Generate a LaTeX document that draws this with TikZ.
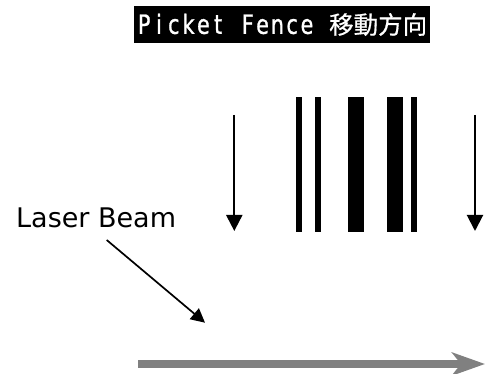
\documentclass[tikz,border=0pt]{standalone}
\usepackage{fontspec}
\usetikzlibrary{arrows.meta}
\newfontfamily\headfont[FakeStretch=0.78,FakeBold=1]{DejaVu Sans}
\newfontfamily\cjkfont[FakeBold=0.6]{Noto Sans CJK TC}
\newfontfamily\labelfont{DejaVu Sans}
% one fixed-pitch cell of the heading
\newcommand\cell[1]{\makebox[14.8pt][c]{#1}}
\begin{document}
\begin{tikzpicture}[x=1pt,y=-1pt,
  titlebox/.style={fill=black, text=white, inner sep=0pt,
    minimum width=296pt, minimum height=37pt},
  droparrow/.style={line width=2pt, -{Triangle[width=16pt,length=16pt]}},
  beamarrow/.style={line width=1.7pt, -{Triangle[width=14pt,length=14pt]}},
  movearrow/.style={line width=8pt, draw={rgb,255:red,128;green,128;blue,128},
    -{Stealth[length=33pt,width=23pt,inset=9pt]}},
  fencebar/.style={fill=black},
  labeltext/.style={inner sep=0pt, anchor=base west,
    font=\labelfont\fontsize{27}{31}\selectfont}]
\useasboundingbox (0,0) rectangle (485,374);

% heading
\node[titlebox] (title) at (282,24.5)
  {{\headfont\fontsize{26.5}{30}\selectfont
    \cell{P}\cell{i}\cell{c}\cell{k}\cell{e}\cell{t}\cell{ }%
    \cell{F}\cell{e}\cell{n}\cell{c}\cell{e}\cell{ }}%
   {\cjkfont\fontsize{24.5}{28}\selectfont 移動方向}};

% the picket fence bars
\fill[fencebar] (296,96.7) rectangle (301.7,231.7);
\fill[fencebar] (315,96.7) rectangle (321,231.7);
\fill[fencebar] (348.3,96.7) rectangle (364.3,231.7);
\fill[fencebar] (386.7,96.7) rectangle (402.7,231.7);
\fill[fencebar] (411,96.7) rectangle (417,231.7);

% direction of motion on both sides
\coordinate (lefttop) at (234.3,115);
\coordinate (leftbot) at (234.3,231);
\coordinate (righttop) at (475,115);
\coordinate (rightbot) at (475,231);
\draw[droparrow] (lefttop) -- (leftbot);
\draw[droparrow] (righttop) -- (rightbot);

% laser beam label and pointer
\node[labeltext] (beam) at (16,228) {Laser Beam};
\coordinate (beamstart) at (106.7,240);
\coordinate (beamend) at (205,322.7);
\draw[beamarrow] (beamstart) -- (beamend);

% laser path
\coordinate (pathstart) at (138,364);
\coordinate (pathend) at (485,364);
\draw[movearrow] (pathstart) -- (pathend);
\end{tikzpicture}
\end{document}
